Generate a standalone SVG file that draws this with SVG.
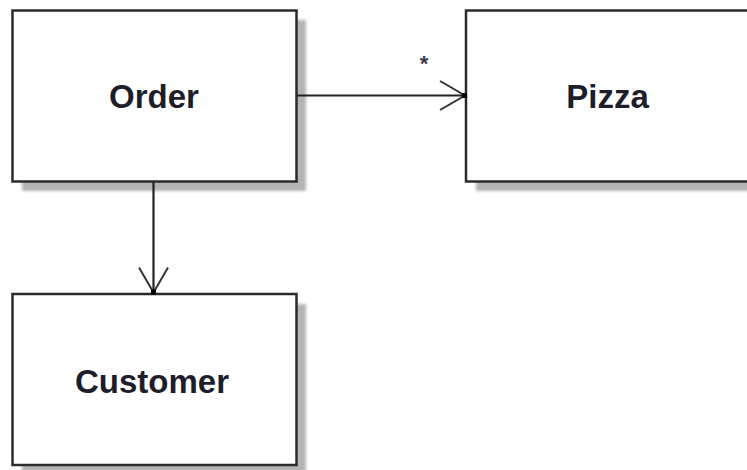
<svg xmlns="http://www.w3.org/2000/svg" width="747" height="470" viewBox="0 0 747 470">
  <defs>
    <filter id="soft" x="-10%" y="-10%" width="120%" height="120%">
      <feGaussianBlur stdDeviation="1.5"/>
    </filter>
    <marker id="open-arrow" viewBox="-15 -10 17 20" refX="0" refY="0" markerWidth="17" markerHeight="20" markerUnits="userSpaceOnUse" orient="auto" overflow="visible">
      <path d="M-25,-14.5 L0,0 L-25,14.5" fill="none" stroke="#333" stroke-width="2"/>
      <rect x="-3" y="-2.5" width="5" height="5" fill="#000"/>
    </marker>
  </defs>
  <style>
    .shadow { fill: #b4b4b4; filter: url(#soft); }
    .box { fill: #ffffff; stroke: #2b2b2b; stroke-width: 2.5; }
    .label { font-family: "Liberation Sans", Arial, sans-serif; font-weight: bold; font-size: 33px; fill: #1e1e2a; text-anchor: middle; }
    .mult { font-family: "Liberation Sans", Arial, sans-serif; font-weight: bold; font-size: 22px; fill: #3a3a4a; text-anchor: middle; }
    .edge { fill: none; stroke: #222; stroke-width: 2.2; marker-end: url(#open-arrow); }
  </style>

  <rect width="747" height="470" fill="#ffffff"/>

  <g id="order">
    <rect class="shadow" x="22" y="20" width="284" height="171"/>
    <rect class="box" x="12.5" y="10.5" width="284" height="171"/>
    <text class="label" x="154" y="108">Order</text>
  </g>

  <g id="pizza">
    <rect class="shadow" x="476" y="20" width="284" height="171"/>
    <rect class="box" x="466" y="10.5" width="284" height="171"/>
    <text class="label" x="607.5" y="108">Pizza</text>
  </g>

  <g id="customer">
    <rect class="shadow" x="22" y="304" width="284" height="171"/>
    <rect class="box" x="12.5" y="294" width="284" height="171"/>
    <text class="label" x="152" y="393">Customer</text>
  </g>

  <g id="connectors">
    <line class="edge" x1="297" y1="95.5" x2="465" y2="95.5"/>
    <text class="mult" x="424" y="71">*</text>
    <line class="edge" x1="153.5" y1="182" x2="153.5" y2="292.5"/>
  </g>
</svg>
